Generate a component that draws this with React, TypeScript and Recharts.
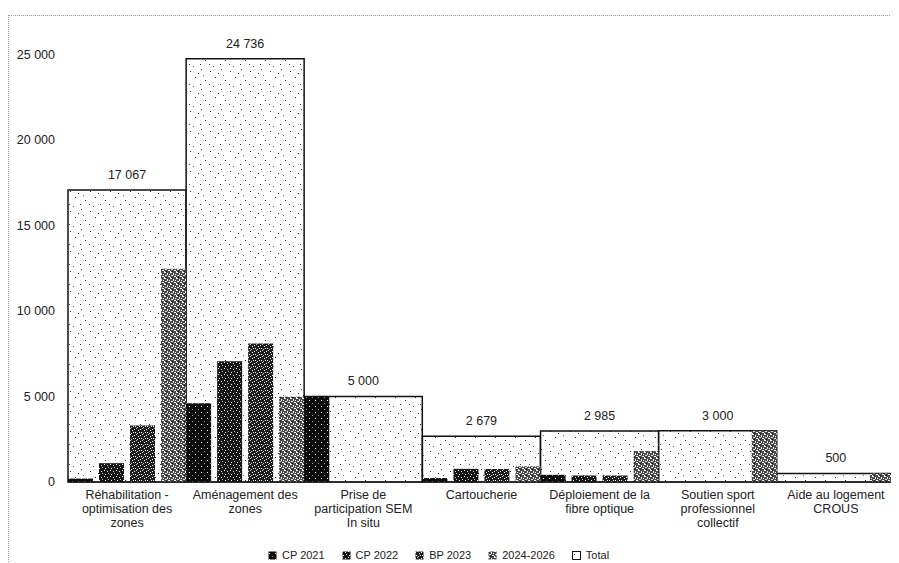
import { Bar, BarChart, LabelList, Legend, XAxis, YAxis } from "recharts";

// category labels (line breaks as in the printed chart)
const categories = [
  "Réhabilitation -\noptimisation des\nzones",
  "Aménagement des\nzones",
  "Prise de\nparticipation SEM\nIn situ",
  "Cartoucherie",
  "Déploiement de la\nfibre optique",
  "Soutien sport\nprofessionnel\ncollectif",
  "Aide au logement\nCROUS",
];

const cp2021 = [200, 4600, 5000, 230, 420, 0, 0];
const cp2022 = [1100, 7050, 0, 770, 380, 0, 0];
const bp2023 = [3300, 8100, 0, 760, 380, 0, 0];
const p20242026 = [12467, 4986, 0, 919, 1805, 3000, 500];
const totals = [17067, 24736, 5000, 2679, 2985, 3000, 500];

const yTicks = [0, 5000, 10000, 15000, 20000, 25000];

const seriesNames = ["CP 2021", "CP 2022", "BP 2023", "2024-2026", "Total"];
const seriesFills = ["url(#p21)", "url(#p22)", "url(#p23)", "url(#p2426)", "url(#ptot)"];

const data = categories.map((cat, i) => ({
  cat,
  cp2021: cp2021[i],
  cp2022: cp2022[i],
  bp2023: bp2023[i],
  p20242026: p20242026[i],
  total: totals[i],
}));

const FONT = "'Liberation Sans', Arial, sans-serif";

const fmt = (v: unknown) =>
  String(v).replace(/\B(?=(\d{3})+(?!\d))/g, " ");

function Patterns() {
  return (
    <defs>
      <pattern id="ptot" width="20" height="20" patternUnits="userSpaceOnUse">
        <rect width="20" height="20" fill="#fff" />
        <rect x="2" y="3" width="1" height="1" fill="#222" />
        <rect x="13" y="1" width="1" height="1" fill="#333" />
        <rect x="7" y="9" width="1" height="1" fill="#222" />
        <rect x="17" y="12" width="1" height="1" fill="#222" />
        <rect x="1" y="16" width="1" height="1" fill="#444" />
        <rect x="10" y="5" width="1" height="1" fill="#222" />
        <rect x="15" y="7" width="1" height="1" fill="#666" />
        <rect x="5" y="18" width="1" height="1" fill="#555" />
        <rect x="12" y="16" width="1" height="1" fill="#333" />
      </pattern>
      <pattern id="p21" width="6" height="6" patternUnits="userSpaceOnUse">
        <rect width="6" height="6" fill="#0d0d0d" />
        <rect x="1" y="2" width="1" height="1" fill="#fff" />
        <rect x="4" y="5" width="1" height="1" fill="#999" />
      </pattern>
      <pattern id="p22" width="6" height="6" patternUnits="userSpaceOnUse">
        <rect width="6" height="6" fill="#161616" />
        <rect x="0" y="0" width="1" height="1" fill="#fff" />
        <rect x="3" y="1" width="1" height="1" fill="#ddd" />
        <rect x="1" y="4" width="1" height="1" fill="#fff" />
        <rect x="4" y="3" width="1" height="1" fill="#bbb" />
      </pattern>
      <pattern id="p23" width="6" height="6" patternUnits="userSpaceOnUse">
        <rect width="6" height="6" fill="#1e1e1e" />
        <rect x="0" y="1" width="1" height="1" fill="#fff" />
        <rect x="2" y="0" width="1" height="1" fill="#ccc" />
        <rect x="4" y="2" width="1" height="1" fill="#fff" />
        <rect x="1" y="4" width="1" height="1" fill="#fff" />
        <rect x="3" y="5" width="1" height="1" fill="#ccc" />
        <rect x="5" y="4" width="1" height="1" fill="#eee" />
      </pattern>
      <pattern id="p2426" width="6" height="6" patternUnits="userSpaceOnUse">
        <rect width="6" height="6" fill="#4a4a4a" />
        <rect x="0" y="0" width="2" height="1" fill="#fff" />
        <rect x="3" y="1" width="1" height="2" fill="#eee" />
        <rect x="5" y="2" width="1" height="1" fill="#fff" />
        <rect x="1" y="3" width="2" height="1" fill="#ddd" />
        <rect x="4" y="4" width="2" height="1" fill="#fff" />
        <rect x="0" y="5" width="1" height="1" fill="#eee" />
        <rect x="2" y="5" width="1" height="1" fill="#111" />
      </pattern>
    </defs>
  );
}

function CategoryTick({ x, y, payload }: any) {
  const lines = String(payload.value).split("\n");
  return (
    <text x={x} y={y} textAnchor="middle" fontSize={12.5} fill="#222" fontFamily={FONT}>
      {lines.map((line, i) => (
        <tspan key={i} x={x} dy={i === 0 ? "0.75em" : 14}>
          {line}
        </tspan>
      ))}
    </text>
  );
}

function LegendContent() {
  return (
    <div
      style={{
        height: 16,
        display: "flex",
        alignItems: "center",
        paddingLeft: 260,
        gap: 17,
        fontFamily: FONT,
        fontSize: 11,
        color: "#222",
      }}
    >
      {seriesNames.map((name, i) => (
        <div key={name} style={{ display: "flex", alignItems: "center", gap: 5 }}>
          <svg width={9} height={9}>
            <Patterns />
            <rect
              x={0.5}
              y={0.5}
              width={8}
              height={8}
              fill={seriesFills[i]}
              stroke={i === 4 ? "#111" : "none"}
            />
          </svg>
          <span>{name}</span>
        </div>
      ))}
    </div>
  );
}

export default function App() {
  return (
    <div style={{ position: "relative", width: 891, height: 555 }}>
      <div
        style={{
          position: "absolute",
          left: 0,
          top: 7,
          width: 887,
          height: 548,
          borderTop: "1px dotted #999",
          borderLeft: "1px dotted #999",
          pointerEvents: "none",
        }}
      />
      <BarChart
        width={891}
        height={555}
        data={data}
        barCategoryGap={0}
        barGap={6}
        margin={{ top: 12, right: 4, left: 0, bottom: 0 }}
      >
        <Patterns />
        <XAxis xAxisId="tot" dataKey="cat" hide />
        <XAxis
          xAxisId="main"
          dataKey="cat"
          height={65}
          interval={0}
          tickLine={false}
          axisLine={{ stroke: "#111" }}
          tickMargin={2}
          tick={<CategoryTick />}
        />
        <YAxis
          domain={[0, 27000]}
          ticks={yTicks}
          width={60}
          axisLine={false}
          tickLine={false}
          tickMargin={7}
          tickFormatter={fmt}
          tick={{ fontSize: 12.5, fill: "#222", fontFamily: FONT }}
        />
        <Bar
          xAxisId="tot"
          dataKey="total"
          name="Total"
          fill="url(#ptot)"
          stroke="#111"
          strokeWidth={1.5}
          isAnimationActive={false}
        >
          <LabelList
            dataKey="total"
            position="top"
            offset={11}
            formatter={fmt}
            style={{ fontSize: 12.5, fill: "#222", fontFamily: FONT }}
          />
        </Bar>
        <Bar xAxisId="main" dataKey="cp2021" name="CP 2021" fill="url(#p21)" isAnimationActive={false} />
        <Bar xAxisId="main" dataKey="cp2022" name="CP 2022" fill="url(#p22)" isAnimationActive={false} />
        <Bar xAxisId="main" dataKey="bp2023" name="BP 2023" fill="url(#p23)" isAnimationActive={false} />
        <Bar xAxisId="main" dataKey="p20242026" name="2024-2026" fill="url(#p2426)" isAnimationActive={false} />
        <Legend verticalAlign="bottom" content={<LegendContent />} />
      </BarChart>
    </div>
  );
}
